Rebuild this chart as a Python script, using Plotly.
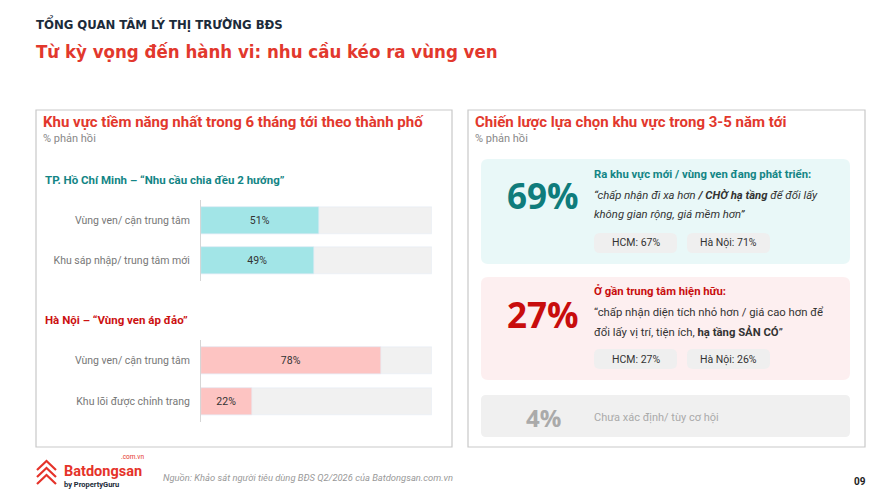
import plotly.graph_objects as go

# ---- data ----
hcm_labels = ["Vùng ven/ cận trung tâm", "Khu sáp nhập/ trung tâm mới"]
hcm_values = [51, 49]
hn_labels = ["Vùng ven/ cận trung tâm", "Khu lõi được chỉnh trang"]
hn_values = [78, 22]

strategy_names = ["Ra khu vực mới / vùng ven đang phát triển:", "Ở gần trung tâm hiện hữu:", "Chưa xác định/ tùy cơ hội"]
strategy_share = [69, 27, 4]
strategy_hcm = [67, 27]
strategy_hn = [71, 26]

W, H = 880, 494
FONT = "Roboto, Noto Sans, sans-serif"
NARROW = "Liberation Sans Narrow, DejaVu Sans Condensed, Roboto, sans-serif"
BIG = "Open Sans, Noto Sans, sans-serif"


def px(x):
    return x / W


def py(y):
    return 1 - y / H


def rrect(x0, y0, x1, y1, r):
    # rounded rectangle path in paper coords, input in pixels
    pts = [
        ("M", [(x0 + r, y0)]), ("L", [(x1 - r, y0)]), ("Q", [(x1, y0), (x1, y0 + r)]),
        ("L", [(x1, y1 - r)]), ("Q", [(x1, y1), (x1 - r, y1)]), ("L", [(x0 + r, y1)]),
        ("Q", [(x0, y1), (x0, y1 - r)]), ("L", [(x0, y0 + r)]), ("Q", [(x0, y0), (x0 + r, y0)]),
    ]
    s = ""
    for cmd, ps in pts:
        s += cmd + " " + " ".join(f"{px(a):.5f},{py(b):.5f}" for a, b in ps) + " "
    return s + "Z"


fig = go.Figure()

# grey track + value bars
for xa, ya, labels, vals, col in [("x", "y", hcm_labels, hcm_values, "#a2e5e7"),
                                  ("x2", "y2", hn_labels, hn_values, "#fdc4c2")]:
    fig.add_trace(go.Bar(y=labels, x=[100] * len(labels), orientation="h", marker_color="#f1f1f1",
                         width=0.66, xaxis=xa, yaxis=ya, hoverinfo="skip"))
    fig.add_trace(go.Bar(y=labels, x=vals, orientation="h", marker_color=col, width=0.66,
                         text=[f"{v}%" for v in vals], textposition="inside", insidetextanchor="middle",
                         textfont=dict(family=FONT, size=10.5, color="#333333"),
                         xaxis=xa, yaxis=ya))

shapes = [
    dict(type="rect", xref="paper", yref="paper", x0=px(36), x1=px(452), y0=py(447), y1=py(110),
         line=dict(color="#c9c9c9", width=1.2), fillcolor="white", layer="below"),
    dict(type="rect", xref="paper", yref="paper", x0=px(468), x1=px(865), y0=py(447), y1=py(110),
         line=dict(color="#c9c9c9", width=1.2), fillcolor="white", layer="below"),
    dict(type="path", xref="paper", yref="paper", path=rrect(481, 159, 850, 264, 7),
         fillcolor="#e9f8f8", line=dict(width=0), layer="below"),
    dict(type="path", xref="paper", yref="paper", path=rrect(481, 277, 850, 380, 7),
         fillcolor="#fdeff0", line=dict(width=0), layer="below"),
    dict(type="path", xref="paper", yref="paper", path=rrect(481, 395, 850, 437, 5),
         fillcolor="#f0f0f0", line=dict(width=0), layer="below"),
]
# pills
for y0, y1 in [(233, 253), (349, 369)]:
    for x0, x1 in [(594, 677), (687, 770)]:
        shapes.append(dict(type="path", xref="paper", yref="paper", path=rrect(x0, y0, x1, y1, 6),
                           fillcolor="#efefef", line=dict(width=0), layer="below"))
# logo mark
for dy in [0, 7, 14]:
    shapes.append(dict(type="path", xref="paper", yref="paper",
                       path=f"M {px(37)},{py(470 + dy)} L {px(46.5)},{py(461 + dy)} L {px(56)},{py(470 + dy)}",
                       line=dict(color="#e5332a", width=2.2)))

ann = []


def text(x, y, s, size, color, family=FONT, xanchor="left", bold=False, italic=False):
    if bold:
        s = f"<b>{s}</b>"
    if italic:
        s = f"<i>{s}</i>"
    ann.append(dict(x=px(x), y=py(y), xref="paper", yref="paper", text=s, showarrow=False,
                    xanchor=xanchor, yanchor="middle", font=dict(family=family, size=size, color=color)))


text(34, 23, "TỔNG QUAN TÂM LÝ THỊ TRƯỜNG BĐS", 13, "#1c2b3a", NARROW, bold=True)
text(34, 51, "Từ kỳ vọng đến hành vi: nhu cầu kéo ra vùng ven", 18.5, "#e2382d", NARROW, bold=True)

text(41, 122, "Khu vực tiềm năng nhất trong 6 tháng tới theo thành phố", 15, "#e2382d", bold=True)
text(41, 138, "% phản hồi", 11, "#888888")
text(43, 180, "TP. Hồ Chí Minh – “Nhu cầu chia đều 2 hướng”", 11.5, "#138585", bold=True)
text(43, 320, "Hà Nội – “Vùng ven áp đảo”", 11.5, "#cc1111", bold=True)

text(473, 122, "Chiến lược lựa chọn khu vực trong 3-5 năm tới", 15, "#e2382d", bold=True)
text(473, 138, "% phản hồi", 11, "#888888")

text(543, 196, f"{strategy_share[0]}%", 35, "#0f7c7c", BIG, "center", bold=True)
text(592, 175, strategy_names[0], 11.3, "#138585", bold=True)
text(592, 195, "“chấp nhận đi xa hơn <b>/ CHỜ hạ tầng</b> để đổi lấy", 11.3, "#333333", italic=True)
text(592, 214, "không gian rộng, giá mềm hơn”", 11.3, "#333333", italic=True)
text(635.5, 243, f"HCM: {strategy_hcm[0]}%", 10.5, "#333333", xanchor="center")
text(728.5, 243, f"Hà Nội: {strategy_hn[0]}%", 10.5, "#333333", xanchor="center")

text(543, 314, f"{strategy_share[1]}%", 35, "#c80d0d", BIG, "center", bold=True)
text(592, 291, strategy_names[1], 11.3, "#c80d0d", bold=True)
text(592, 312, "“chấp nhận diện tích nhỏ hơn / giá cao hơn để", 11.3, "#333333")
text(592, 332, "đổi lấy vị trí, tiện ích, <b>hạ tầng SẢN CÓ</b>”", 11.3, "#333333")
text(635.5, 359, f"HCM: {strategy_hcm[1]}%", 10.5, "#333333", xanchor="center")
text(728.5, 359, f"Hà Nội: {strategy_hn[1]}%", 10.5, "#333333", xanchor="center")

text(543, 417, f"{strategy_share[2]}%", 24, "#aaaaaa", BIG, "center", bold=True)
text(592, 417, strategy_names[2], 11, "#aaaaaa")

# footer
text(62, 471, "Batdongsan", 14.5, "#e5332a", bold=True)
text(146, 457, ".com.vn", 6.5, "#e5332a", xanchor="right")
text(62, 484, "by PropertyGuru", 7.5, "#1c2b3a", bold=True)
text(161, 477, "Nguồn: Khảo sát người tiêu dùng BĐS Q2/2026 của Batdongsan.com.vn", 9.4, "#999999", italic=True)
text(868, 481, "09", 10, "#222222", xanchor="right", bold=True)

axis_x = dict(range=[0, 100], visible=False, fixedrange=True)
axis_y = dict(autorange="reversed", showline=True, linecolor="#d6d6d6", linewidth=1, ticks="",
              ticklabelstandoff=8, tickfont=dict(family=FONT, size=10.5, color="#777777"), showgrid=False)

fig.update_layout(
    width=W, height=H, margin=dict(l=0, r=0, t=0, b=0),
    paper_bgcolor="white", plot_bgcolor="rgba(0,0,0,0)",
    barmode="overlay", showlegend=False, bargap=0,
    font=dict(family=FONT),
    xaxis=dict(domain=[px(201), px(432)], anchor="y", **axis_x),
    yaxis=dict(domain=[py(281), py(200)], anchor="x", **axis_y),
    xaxis2=dict(domain=[px(201), px(432)], anchor="y2", **axis_x),
    yaxis2=dict(domain=[py(422), py(340)], anchor="x2", **axis_y),
    shapes=shapes, annotations=ann,
)

fig.write_html("out.html", config={"displayModeBar": False},
               post_script="document.body.style.margin='0';document.body.style.overflow='hidden';")
